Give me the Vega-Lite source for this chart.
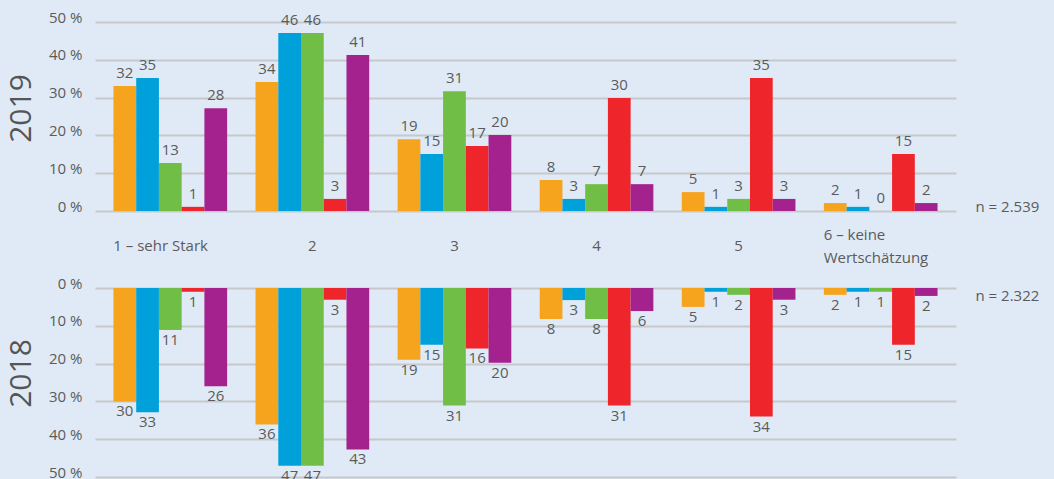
{
  "$schema": "https://vega.github.io/schema/vega-lite/v6.json",
  "background": "#dfeaf6",
  "padding": {"left": 6, "top": 10, "right": 16, "bottom": 10},
  "spacing": 11,
  "config": {
    "view": {"stroke": null},
    "font": "Open Sans",
    "axis": {
      "labelColor": "#5b5b5b",
      "titleColor": "#555555",
      "labelFont": "Open Sans",
      "titleFont": "Open Sans",
      "labelFontSize": 15,
      "gridColor": "#c6c8ca",
      "gridWidth": 2,
      "domain": false,
      "ticks": false,
      "tickSize": 0
    }
  },
  "datasets": {
    "d2019": [
      {"kategorie": "1 – sehr Stark", "gruppe": "Gruppe 1", "wert": 33.1, "label": "32"},
      {"kategorie": "1 – sehr Stark", "gruppe": "Gruppe 2", "wert": 35.2, "label": "35"},
      {"kategorie": "1 – sehr Stark", "gruppe": "Gruppe 3", "wert": 12.7, "label": "13"},
      {"kategorie": "1 – sehr Stark", "gruppe": "Gruppe 4", "wert": 1.1, "label": "1"},
      {"kategorie": "1 – sehr Stark", "gruppe": "Gruppe 5", "wert": 27.2, "label": "28"},
      {"kategorie": "2", "gruppe": "Gruppe 1", "wert": 34.1, "label": "34"},
      {"kategorie": "2", "gruppe": "Gruppe 2", "wert": 47.1, "label": "46"},
      {"kategorie": "2", "gruppe": "Gruppe 3", "wert": 47.1, "label": "46"},
      {"kategorie": "2", "gruppe": "Gruppe 4", "wert": 3.2, "label": "3"},
      {"kategorie": "2", "gruppe": "Gruppe 5", "wert": 41.3, "label": "41"},
      {"kategorie": "3", "gruppe": "Gruppe 1", "wert": 19.0, "label": "19"},
      {"kategorie": "3", "gruppe": "Gruppe 2", "wert": 15.1, "label": "15"},
      {"kategorie": "3", "gruppe": "Gruppe 3", "wert": 31.7, "label": "31"},
      {"kategorie": "3", "gruppe": "Gruppe 4", "wert": 17.2, "label": "17"},
      {"kategorie": "3", "gruppe": "Gruppe 5", "wert": 20.1, "label": "20"},
      {"kategorie": "4", "gruppe": "Gruppe 1", "wert": 8.2, "label": "8"},
      {"kategorie": "4", "gruppe": "Gruppe 2", "wert": 3.2, "label": "3"},
      {"kategorie": "4", "gruppe": "Gruppe 3", "wert": 7.1, "label": "7"},
      {"kategorie": "4", "gruppe": "Gruppe 4", "wert": 29.9, "label": "30"},
      {"kategorie": "4", "gruppe": "Gruppe 5", "wert": 7.1, "label": "7"},
      {"kategorie": "5", "gruppe": "Gruppe 1", "wert": 5.0, "label": "5"},
      {"kategorie": "5", "gruppe": "Gruppe 2", "wert": 1.1, "label": "1"},
      {"kategorie": "5", "gruppe": "Gruppe 3", "wert": 3.2, "label": "3"},
      {"kategorie": "5", "gruppe": "Gruppe 4", "wert": 35.2, "label": "35"},
      {"kategorie": "5", "gruppe": "Gruppe 5", "wert": 3.2, "label": "3"},
      {"kategorie": "6 – keine Wertschätzung", "gruppe": "Gruppe 1", "wert": 2.1, "label": "2"},
      {"kategorie": "6 – keine Wertschätzung", "gruppe": "Gruppe 2", "wert": 1.1, "label": "1"},
      {"kategorie": "6 – keine Wertschätzung", "gruppe": "Gruppe 3", "wert": 0, "label": "0"},
      {"kategorie": "6 – keine Wertschätzung", "gruppe": "Gruppe 4", "wert": 15.1, "label": "15"},
      {"kategorie": "6 – keine Wertschätzung", "gruppe": "Gruppe 5", "wert": 2.1, "label": "2"}
    ],
    "d2018": [
      {"kategorie": "1 – sehr Stark", "gruppe": "Gruppe 1", "wert": 30.0, "label": "30"},
      {"kategorie": "1 – sehr Stark", "gruppe": "Gruppe 2", "wert": 32.9, "label": "33"},
      {"kategorie": "1 – sehr Stark", "gruppe": "Gruppe 3", "wert": 11.1, "label": "11"},
      {"kategorie": "1 – sehr Stark", "gruppe": "Gruppe 4", "wert": 1.0, "label": "1"},
      {"kategorie": "1 – sehr Stark", "gruppe": "Gruppe 5", "wert": 26.0, "label": "26"},
      {"kategorie": "2", "gruppe": "Gruppe 1", "wert": 36.1, "label": "36"},
      {"kategorie": "2", "gruppe": "Gruppe 2", "wert": 47.0, "label": "47"},
      {"kategorie": "2", "gruppe": "Gruppe 3", "wert": 47.0, "label": "47"},
      {"kategorie": "2", "gruppe": "Gruppe 4", "wert": 3.1, "label": "3"},
      {"kategorie": "2", "gruppe": "Gruppe 5", "wert": 42.7, "label": "43"},
      {"kategorie": "3", "gruppe": "Gruppe 1", "wert": 19.0, "label": "19"},
      {"kategorie": "3", "gruppe": "Gruppe 2", "wert": 15.0, "label": "15"},
      {"kategorie": "3", "gruppe": "Gruppe 3", "wert": 31.1, "label": "31"},
      {"kategorie": "3", "gruppe": "Gruppe 4", "wert": 16.0, "label": "16"},
      {"kategorie": "3", "gruppe": "Gruppe 5", "wert": 19.8, "label": "20"},
      {"kategorie": "4", "gruppe": "Gruppe 1", "wert": 8.2, "label": "8"},
      {"kategorie": "4", "gruppe": "Gruppe 2", "wert": 3.2, "label": "3"},
      {"kategorie": "4", "gruppe": "Gruppe 3", "wert": 8.2, "label": "8"},
      {"kategorie": "4", "gruppe": "Gruppe 4", "wert": 31.1, "label": "31"},
      {"kategorie": "4", "gruppe": "Gruppe 5", "wert": 6.1, "label": "6"},
      {"kategorie": "5", "gruppe": "Gruppe 1", "wert": 5.0, "label": "5"},
      {"kategorie": "5", "gruppe": "Gruppe 2", "wert": 1.0, "label": "1"},
      {"kategorie": "5", "gruppe": "Gruppe 3", "wert": 1.8, "label": "2"},
      {"kategorie": "5", "gruppe": "Gruppe 4", "wert": 34.0, "label": "34"},
      {"kategorie": "5", "gruppe": "Gruppe 5", "wert": 3.1, "label": "3"},
      {"kategorie": "6 – keine Wertschätzung", "gruppe": "Gruppe 1", "wert": 1.8, "label": "2"},
      {"kategorie": "6 – keine Wertschätzung", "gruppe": "Gruppe 2", "wert": 1.0, "label": "1"},
      {"kategorie": "6 – keine Wertschätzung", "gruppe": "Gruppe 3", "wert": 1.0, "label": "1"},
      {"kategorie": "6 – keine Wertschätzung", "gruppe": "Gruppe 4", "wert": 15.0, "label": "15"},
      {"kategorie": "6 – keine Wertschätzung", "gruppe": "Gruppe 5", "wert": 2.1, "label": "2"}
    ]
  },
  "vconcat": [
    {
      "width": 861,
      "height": 189,
      "data": {"name": "d2019"},
      "encoding": {
        "x": {
          "field": "kategorie", "type": "nominal", "sort": null,
          "scale": {"paddingInner": 0.2, "paddingOuter": 0.13},
          "axis": {
            "title": null, "orient": "bottom", "labelAngle": 0,
            "labelBaseline": "middle", "labelLineHeight": 23,
            "labelPadding": {"condition": {"test": "datum.value == '6 – keine Wertschätzung'", "value": 23}, "value": 34},
            "labelAlign": {"condition": {"test": "datum.value == '6 – keine Wertschätzung' || datum.value == '1 – sehr Stark'", "value": "left"}, "value": "center"},
            "labelOffset": {"condition": {"test": "datum.value == '6 – keine Wertschätzung' || datum.value == '1 – sehr Stark'", "value": -57}, "value": 0},
            "labelExpr": "datum.value == '6 – keine Wertschätzung' ? ['6 – keine', 'Wertschätzung'] : datum.value"
          }
        },
        "xOffset": {"field": "gruppe", "type": "nominal", "sort": null}
      },
      "layer": [
        {
          "mark": {"type": "bar"},
          "encoding": {
            "y": {
              "field": "wert", "type": "quantitative",
              "scale": {"domain": [0, 50]},
              "axis": {
                "values": [0, 10, 20, 30, 40, 50],
                "labelExpr": "datum.value + ' %'",
                "labelBaseline": "alphabetic",
                "labelPadding": 13,
                "title": "2019", "titleFontSize": 30, "titleFontWeight": "normal", "titlePadding": 12, "titleY": 86
              }
            },
            "color": {
              "field": "gruppe", "type": "nominal",
              "scale": {"domain": ["Gruppe 1", "Gruppe 2", "Gruppe 3", "Gruppe 4", "Gruppe 5"],
                        "range": ["#f6a31e", "#00a1db", "#70be45", "#ee252b", "#a3228d"]},
              "legend": null
            }
          }
        },
        {
          "mark": {"type": "text", "baseline": "alphabetic", "dy": -8, "fontSize": 15, "color": "#5b5b5b"},
          "encoding": {
            "y": {
              "field": "wert", "type": "quantitative",
              "scale": {"domain": [0, 50]},
              "axis": {
                "orient": "right", "values": [0], "labelExpr": "'n = 2.539'",
                "grid": false, "labelBaseline": "alphabetic", "labelPadding": 19, "title": null
              }
            },
            "text": {"field": "label"}
          }
        }
      ],
      "resolve": {"scale": {"y": "independent"}}
    },
    {
      "width": 861,
      "height": 189,
      "data": {"name": "d2018"},
      "encoding": {
        "x": {
          "field": "kategorie", "type": "nominal", "sort": null,
          "scale": {"paddingInner": 0.2, "paddingOuter": 0.13},
          "axis": null
        },
        "xOffset": {"field": "gruppe", "type": "nominal", "sort": null}
      },
      "layer": [
        {
          "mark": {"type": "bar"},
          "encoding": {
            "y": {
              "field": "wert", "type": "quantitative",
              "scale": {"domain": [0, 50], "reverse": true},
              "axis": {
                "values": [0, 10, 20, 30, 40, 50],
                "labelExpr": "datum.value + ' %'",
                "labelBaseline": "alphabetic",
                "labelPadding": 13,
                "title": "2018", "titleFontSize": 30, "titleFontWeight": "normal", "titlePadding": 12, "titleY": 85
              }
            },
            "color": {
              "field": "gruppe", "type": "nominal",
              "scale": {"domain": ["Gruppe 1", "Gruppe 2", "Gruppe 3", "Gruppe 4", "Gruppe 5"],
                        "range": ["#f6a31e", "#00a1db", "#70be45", "#ee252b", "#a3228d"]},
              "legend": null
            }
          }
        },
        {
          "mark": {"type": "text", "baseline": "top", "dy": 3, "fontSize": 15, "color": "#5b5b5b"},
          "encoding": {
            "y": {
              "field": "wert", "type": "quantitative",
              "scale": {"domain": [0, 50], "reverse": true},
              "axis": {
                "orient": "right", "values": [0], "labelExpr": "'n = 2.322'",
                "grid": false, "labelBaseline": "top", "labelPadding": 19, "title": null
              }
            },
            "text": {"field": "label"}
          }
        }
      ],
      "resolve": {"scale": {"y": "independent"}}
    }
  ]
}
